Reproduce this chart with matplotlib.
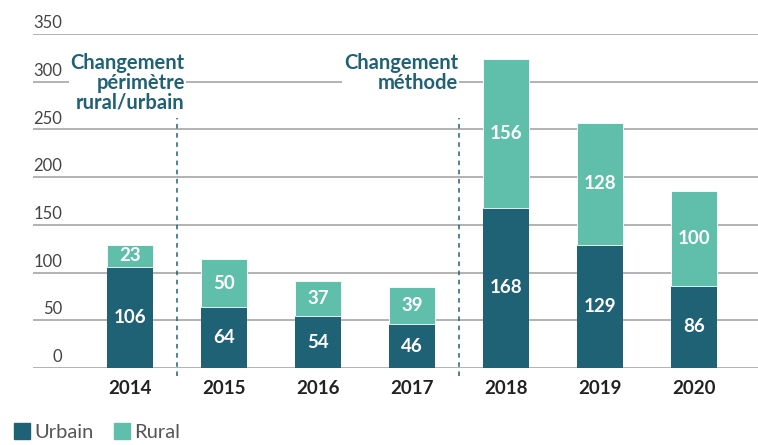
import matplotlib
matplotlib.use("Agg")
import matplotlib.pyplot as plt
from matplotlib.patches import Patch
from matplotlib.transforms import blended_transform_factory

plt.rcParams['font.family'] = ['Lato', 'DejaVu Sans']

# Data
years = ['2014', '2015', '2016', '2017', '2018', '2019', '2020']
urbain = [106, 64, 54, 46, 168, 129, 86]
rural = [23, 50, 37, 39, 156, 128, 100]
yticks = [0, 50, 100, 150, 200, 250, 300, 350]

c_urb = '#1f6276'
c_rur = '#5fbfaa'
c_grid = '#9e9ea2'

fig = plt.figure(figsize=(7.58, 4.45), dpi=100)
ax = fig.add_axes([33 / 758, 77 / 445, 725 / 758, 334 / 445])

x = list(range(len(years)))
ax.bar(x, urbain, width=0.49, color=c_urb, zorder=2)
ax.bar(x, rural, width=0.49, bottom=urbain, color=c_rur, zorder=2,
       edgecolor='white', linewidth=0.6)

for i in x:
    ax.text(i, urbain[i] / 2, str(urbain[i]), ha='center', va='center',
            color='white', fontsize=13.5, fontweight='bold', zorder=3)
    ax.text(i, urbain[i] + rural[i] / 2, str(rural[i]), ha='center', va='center',
            color='white', fontsize=13.5, fontweight='bold', zorder=3)

ax.set_xlim(-1.03, 6.68)
ax.set_ylim(0, 350)

# grid lines and y labels
for v in yticks:
    ax.axhline(v, color=c_grid, linewidth=1.1, zorder=1)
trans = blended_transform_factory(ax.transAxes, ax.transData)
for v in yticks:
    ax.text(29 / 725, v + 3, str(v), transform=trans, ha='right', va='bottom',
            fontsize=12, color='#444444')

ax.set_yticks([])
ax.set_xticks(x)
ax.set_xticklabels(years, fontsize=13.5, fontweight='bold', color='#222222')
ax.tick_params(axis='x', length=0, pad=9)
for s in ax.spines.values():
    s.set_visible(False)

# dashed change markers
for xv in [0.5, 3.5]:
    ax.plot([xv, xv], [-8, 262], color=c_urb, linestyle=(0, (3, 3)),
            linewidth=1.1, clip_on=False, zorder=2)

ax.text(0.585, 330, 'Changement\npérimètre\nrural/urbain', ha='right', va='top',
        fontsize=14.5, fontweight='bold', color=c_urb, linespacing=0.98,
        bbox=dict(facecolor='white', edgecolor='none', pad=1), zorder=4)
ax.text(3.49, 330, 'Changement\nméthode', ha='right', va='top',
        fontsize=14.5, fontweight='bold', color=c_urb, linespacing=0.98,
        bbox=dict(facecolor='white', edgecolor='none', pad=1), zorder=4)

handles = [Patch(color=c_urb, label='Urbain'), Patch(color=c_rur, label='Rural')]
fig.legend(handles=handles, loc='lower left', bbox_to_anchor=(-4 / 758, -14 / 445),
           ncol=2, frameon=False, fontsize=14.5, handlelength=0.8, handleheight=0.8,
           handletextpad=0.2, columnspacing=1.0, labelcolor='#555555')

fig.savefig('out.png', dpi=100)
